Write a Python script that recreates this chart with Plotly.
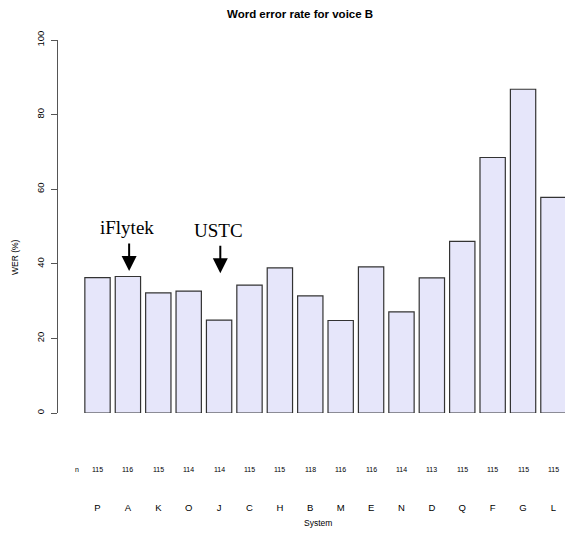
import plotly.graph_objects as go

# systems and their word error rates (voice B)
systems = ['P', 'A', 'K', 'O', 'J', 'C', 'H', 'B', 'M', 'E', 'N', 'D', 'Q', 'F', 'G', 'L']
wer = [36.3, 36.6, 32.2, 32.7, 24.9, 34.3, 38.9, 31.4, 24.8, 39.2, 27.1, 36.2, 46.0, 68.5, 86.8, 57.8]
n_counts = [115, 116, 115, 114, 114, 115, 115, 118, 116, 116, 114, 113, 115, 115, 115, 115]
y_ticks = [0, 20, 40, 60, 80, 100]

# labelled systems with arrows
callouts = [('iFlytek', 'A', 38.1), ('USTC', 'J', 37.5)]

W, H = 565, 537
L, R, T, B = 58, 0, 40, 124
BLACK = '#000000'

fig = go.Figure()

fig.add_trace(go.Bar(x=systems, y=wer,
                     marker=dict(color='#E6E6FA', line=dict(color='#333333', width=1.2)),
                     showlegend=False))

annotations = []

# free texts given in page pixels, converted to paper coords below
annotations.append(dict(text='<b>Word error rate for voice B</b>', x=300, y=14,
                        xref='paper', yref='paper', showarrow=False,
                        font=dict(family='Liberation Sans, Arial', size=11.5, color=BLACK)))
annotations.append(dict(text='System', x=318, y=523, xref='paper', yref='paper',
                        showarrow=False, font=dict(size=8.5, color=BLACK)))
annotations.append(dict(text='WER (%)', x=15, y=257, xref='paper', yref='paper',
                        textangle=-90, showarrow=False, font=dict(size=8.5, color=BLACK)))

# n row under the bars
annotations.append(dict(text='n', x=-0.67, y=469, xref='x', yref='paper',
                        showarrow=False, font=dict(size=7, color=BLACK)))
for s, n in zip(systems, n_counts):
    annotations.append(dict(text=str(n), x=s, y=469, xref='x', yref='paper',
                            showarrow=False, font=dict(size=7, color=BLACK)))

pw, ph = W - L - R, H - T - B
for a in annotations:
    a['xanchor'] = 'center'
    a['yanchor'] = 'middle'
    if a['xref'] == 'paper':
        a['x'] = (a['x'] - L) / pw
    a['y'] = (H - B - a['y']) / ph

for label, s, tip in callouts:
    i = systems.index(s)
    annotations.append(dict(text=label, x=i, y=tip, xref='x', yref='y',
                            xshift=-1, yshift=43, showarrow=False,
                            xanchor='center', yanchor='middle',
                            font=dict(family='Liberation Serif, Times New Roman', size=19,
                                      color=BLACK)))
    annotations.append(dict(text='', x=i + 0.04, y=tip, xref='x', yref='y',
                            ax=0, ay=-29, showarrow=True, arrowhead=2,
                            arrowsize=1.5, arrowwidth=2, arrowcolor=BLACK))

fig.update_layout(
    width=W, height=H,
    margin=dict(l=L, r=R, t=T, b=B),
    paper_bgcolor='white', plot_bgcolor='white',
    font=dict(family='Liberation Sans, Arial', color=BLACK),
    bargap=0.2 / 1.2,
    annotations=annotations,
    xaxis=dict(type='category', range=[-1.3, 15.38], showline=False, showgrid=False,
               zeroline=False, ticks='', tickfont=dict(size=9.5, color=BLACK),
               ticklabelstandoff=87),
    yaxis=dict(range=[0, 100], tickvals=y_ticks, showgrid=False, zeroline=False,
               showline=True, linecolor='#555555', linewidth=1,
               ticks='outside', ticklen=6, tickcolor='#555555',
               tickangle=-90, tickfont=dict(size=9.5, color=BLACK), ticklabelstandoff=3),
)

# drop the page's default body margin so the figure sits at the corner
fig.write_html("out.html", config={'displayModeBar': False},
               post_script="document.body.style.margin='0';")
